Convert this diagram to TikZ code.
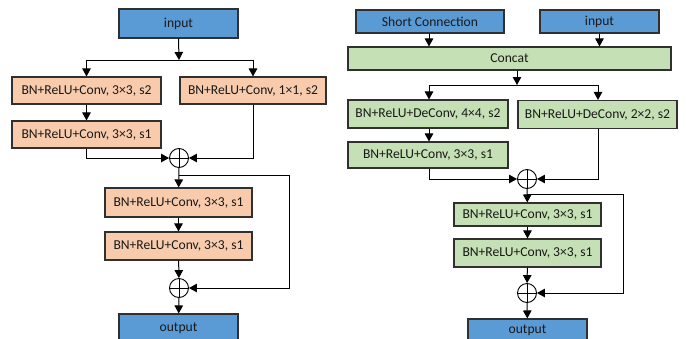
\documentclass[tikz,border=0pt]{standalone}
\usepackage{fontspec}
\setmainfont{Carlito}
\usetikzlibrary{arrows.meta,calc}

\definecolor{boxblue}{HTML}{5B9BD5}
\definecolor{boxorange}{HTML}{F8CBAD}
\definecolor{boxgreen}{HTML}{C5E0B4}
\definecolor{edgegray}{HTML}{303030}

\tikzset{
  block/.style={rectangle,draw=edgegray,line width=1.1pt,inner sep=1pt,text=black!90,font=\fontsize{13.6}{15}\selectfont},
  bluebox/.style={block,fill=boxblue},
  orangebox/.style={block,fill=boxorange},
  greenbox/.style={block,fill=boxgreen},
  sumnode/.style={circle,draw,line width=0.9pt,minimum size=19pt,inner sep=0pt,
    path picture={\draw[line width=0.9pt] (path picture bounding box.north) -- (path picture bounding box.south)
      (path picture bounding box.west) -- (path picture bounding box.east);}},
  link/.style={line width=1pt,-{Triangle[length=8pt,width=8.5pt]}},
  wire/.style={line width=1pt}
}

\begin{document}
\begin{tikzpicture}[x=1pt,y=-1pt]
  \useasboundingbox (0,0) rectangle (686,338);
  \clip (0,0) rectangle (686,338);

  % left block
  \node[bluebox,minimum width=119pt,minimum height=29pt] (inL) at (178.5,23.5) {input};
  \node[orangebox,minimum width=149pt,minimum height=27pt] (convA) at (86.5,90.5) {BN+ReLU+Conv, 3×3, s2};
  \node[orangebox,minimum width=146pt,minimum height=27pt] (convB) at (253,90.5) {BN+ReLU+Conv, 1×1, s2};
  \node[orangebox,minimum width=149pt,minimum height=27pt] (convC) at (86.5,134.5) {BN+ReLU+Conv, 3×3, s1};
  \node[sumnode] (sumA) at (179,158) {};
  \node[orangebox,minimum width=147pt,minimum height=29pt] (convD) at (178.5,202.5) {BN+ReLU+Conv, 3×3, s1};
  \node[orangebox,minimum width=147pt,minimum height=28pt] (convE) at (178.5,246) {BN+ReLU+Conv, 3×3, s1};
  \node[sumnode] (sumB) at (179,288) {};
  \node[bluebox,minimum width=119pt,minimum height=28pt] (outL) at (178.5,328) {output};

  \coordinate (splitL) at (179,60);
  \coordinate (loopL) at (179,175);
  \draw[link] (inL.south) -- (splitL);
  \draw[wire] (convA.north |- splitL) -- (convB.north |- splitL);
  \draw[link] (convA.north |- splitL) -- (convA.north);
  \draw[link] (convB.north |- splitL) -- (convB.north);
  \draw[link] (convA) -- (convC);
  \draw[link] (convC.south) |- (sumA.west);
  \draw[link] (convB.south) |- (sumA.east);
  \draw[link] (sumA) -- (convD);
  \draw[link] (convD) -- (convE);
  \draw[link] (convE) -- (sumB);
  \draw[link] (loopL) -- (289,175) |- (sumB.east);
  \draw[link] (sumB) -- (outL);

  % right block
  \node[bluebox,minimum width=148pt,minimum height=23pt] (shortc) at (430,21.5) {Short Connection};
  \node[bluebox,minimum width=119pt,minimum height=23pt] (inR) at (599.5,21.5) {input};
  \node[greenbox,minimum width=323pt,minimum height=23pt] (concat) at (509.5,58.5) {Concat};
  \node[greenbox,minimum width=160pt,minimum height=28pt] (deconvA) at (428,114) {BN+ReLU+DeConv, 4×4, s2};
  \node[greenbox,minimum width=159pt,minimum height=28pt] (deconvB) at (597.5,114.5) {BN+ReLU+DeConv, 2×2, s2};
  \node[greenbox,minimum width=160pt,minimum height=26pt] (convF) at (428,155) {BN+ReLU+Conv, 3×3, s1};
  \node[sumnode] (sumC) at (527,179) {};
  \node[greenbox,minimum width=147pt,minimum height=23pt] (convG) at (527.5,214.5) {BN+ReLU+Conv, 3×3, s1};
  \node[greenbox,minimum width=147pt,minimum height=28pt] (convH) at (527.5,253) {BN+ReLU+Conv, 3×3, s1};
  \node[sumnode] (sumD) at (527,293) {};
  \node[bluebox,minimum width=119pt,minimum height=22pt] (outR) at (527.5,330) {output};

  \coordinate (splitR) at (517,85);
  \coordinate (loopR) at (527,194);
  \draw[link] (shortc.south -| 429,0) -- (concat.north -| 429,0);
  \draw[link] (inR.south) -- (concat.north -| inR.south);
  \draw[link] (concat.south -| splitR) -- (splitR);
  \draw[wire] (429,85) -- (598,85);
  \draw[link] (429,85) -- (deconvA.north -| 429,0);
  \draw[link] (598,85) -- (deconvB.north -| 598,0);
  \draw[link] (deconvA.south -| 429,0) -- (convF.north -| 429,0);
  \draw[link] (convF.south -| 429,0) |- (sumC.west);
  \draw[link] (deconvB.south -| 598,0) |- (sumC.east);
  \draw[link] (sumC) -- (convG);
  \draw[link] (convG) -- (convH);
  \draw[link] (convH) -- (sumD);
  \draw[link] (loopR) -- (623,194) |- (sumD.east);
  \draw[link] (sumD) -- (outR);
\end{tikzpicture}
\end{document}
